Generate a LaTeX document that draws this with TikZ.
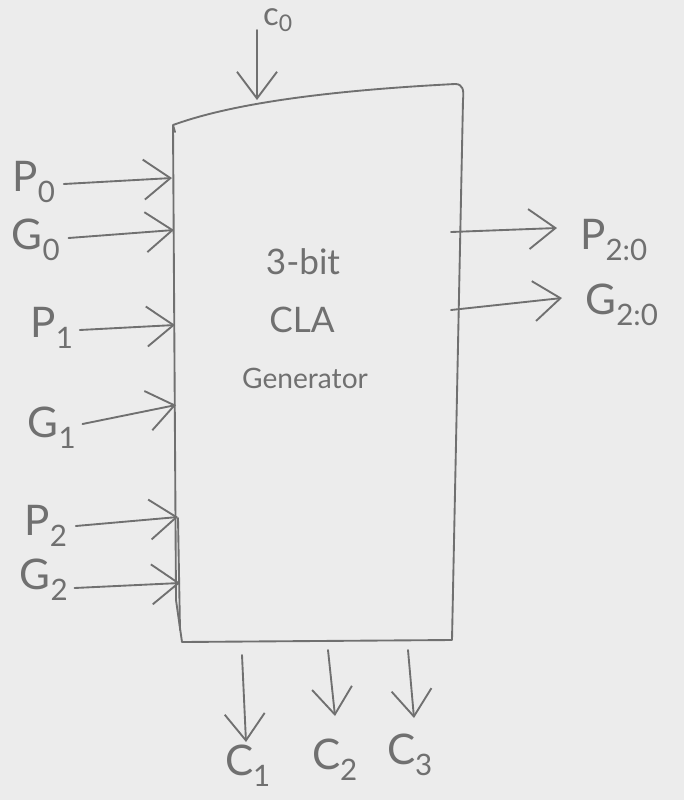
\documentclass[tikz,border=0pt]{standalone}
\usepackage{fontspec}
\setmainfont{Lato}
\usetikzlibrary{arrows.meta}
\definecolor{paper}{RGB}{236,236,236}
\definecolor{pencil}{RGB}{112,112,112}
\tikzset{
  wire/.style={draw=pencil, line width=1.6pt, line cap=round, line join=round,
    -{Straight Barb[length=8mm, width=12mm, line width=1.6pt]}},
  lbl/.style={text=pencil, inner sep=0pt, font=\fontsize{36}{40}\selectfont},
  inner/.style={text=pencil, inner sep=0pt},
  outline/.style={draw=pencil, line width=1.6pt, line join=round, line cap=round}
}
\begin{document}
\begin{tikzpicture}[x=0.03cm, y=-0.03cm]
\fill[paper] (0,0) rectangle (684,800);
\useasboundingbox (0,0) rectangle (684,800);
% box
\draw[outline] (175,132) -- (173,125) .. controls (220,108) and (300,92) .. (455,84)
  .. controls (463,84) and (464,90) .. (463,100) -- (452,640) -- (182,642) -- (176,600) -- (173,125);
\draw[outline] (178,518) -- (180,630);
\coordinate (bt) at (257,100);
\coordinate (l0) at (172,178);
\coordinate (l1) at (174,230);
\coordinate (l2) at (175,325);
\coordinate (l3) at (176,405);
\coordinate (l4) at (178,517);
\coordinate (l5) at (180,583);
\coordinate (r0) at (451,232);
\coordinate (r1) at (451,310);
\coordinate (b1) at (242,655);
\coordinate (b2) at (328,650);
\coordinate (b3) at (408,650);
% texts
\node[inner, font=\fontsize{30}{34}\selectfont] (t1) at (303,262) {3-bit};
\node[inner, font=\fontsize{30}{34}\selectfont] (t2) at (302,320) {CLA};
\node[inner, font=\fontsize{24}{28}\selectfont] (t3) at (305,378) {Generator};
% labels
\node[lbl, font=\fontsize{28}{30}\selectfont] (c0) at (278,20) {c\textsubscript{0}};
\node[lbl] (p0) at (34,182) {P\textsubscript{0}};
\node[lbl] (g0) at (36,240) {G\textsubscript{0}};
\node[lbl] (p1) at (52,328) {P\textsubscript{1}};
\node[lbl] (g1) at (52,428) {G\textsubscript{1}};
\node[lbl] (p2) at (46,526) {P\textsubscript{2}};
\node[lbl] (g2) at (44,580) {G\textsubscript{2}};
\node[lbl] (p20) at (614,240) {P\textsubscript{2:0}};
\node[lbl] (g20) at (622,305) {G\textsubscript{2:0}};
\node[lbl] (c1) at (248,766) {C\textsubscript{1}};
\node[lbl] (c2) at (335,760) {C\textsubscript{2}};
\node[lbl] (c3) at (410,755) {C\textsubscript{3}};
% connectors
\draw[wire] (257,30) -- (bt);
\draw[wire] (p0.east) ++(8,2) -- (l0);
\draw[wire] (g0.east) ++(8,-2) -- (l1);
\draw[wire] (p1.east) ++(6,2) -- (l2);
\draw[wire] (g1.east) ++(6,-4) -- (l3);
\draw[wire] (p2.east) ++(8,0) -- (l4);
\draw[wire] (g2.east) ++(6,8) -- (l5);
\draw[wire] (r0) -- (557,228);
\draw[wire] (r1) -- (562,298);
\draw[wire] (b1) -- (246,742);
\draw[wire] (b2) -- (335,716);
\draw[wire] (b3) -- (414,718);
\end{tikzpicture}
\end{document}
